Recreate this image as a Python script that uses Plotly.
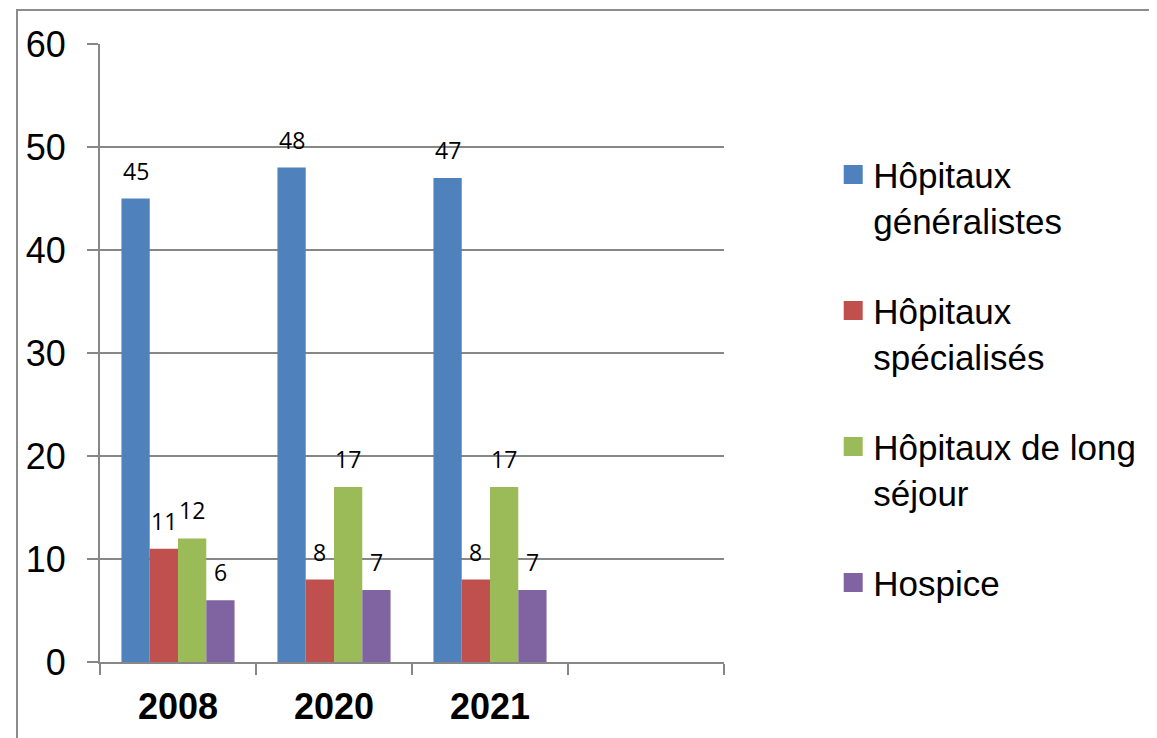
import plotly.graph_objects as go

categories = ["2008", "2020", "2021"]
series_names = ["Hôpitaux<br>généralistes", "Hôpitaux<br>spécialisés", "Hôpitaux de long<br>séjour", "Hospice"]
generalistes = [45, 48, 47]
specialises = [11, 8, 8]
long_sejour = [12, 17, 17]
hospice = [6, 7, 7]
colors = ["#4F81BD", "#C0504D", "#9BBB59", "#8064A2"]
y_ticks = [0, 10, 20, 30, 40, 50, 60]

series = [generalistes, specialises, long_sejour, hospice]
n_slots = 4  # the category axis keeps one empty slot on the right
xpos = list(range(len(categories)))
bargap = 0.275
w = (1 - bargap) / len(series)

fig = go.Figure()
for k, (name, vals, col) in enumerate(zip(series_names, series, colors)):
    fig.add_trace(go.Bar(x=xpos, y=vals, name=name, marker=dict(color=col, line=dict(width=0)),
                         showlegend=False))
    # legend-only square marker
    fig.add_trace(go.Scatter(x=[None], y=[None], mode="markers", name=name, legendgroup=str(k),
                             marker=dict(symbol="square", size=16, color=col, line=dict(width=3, color=col))))

annotations = []
for k, vals in enumerate(series):
    off = (k - (len(series) - 1) / 2) * w
    for i, v in enumerate(vals):
        annotations.append(dict(x=xpos[i] + off, y=v, xref="x", yref="y", text=str(v), showarrow=False,
                                yanchor="middle", yshift=28,
                                font=dict(family="Open Sans", size=23, color="#000000")))

grid = "#878787"
fig.update_layout(
    width=1157, height=738,
    margin=dict(l=92, r=441, t=36, b=84),
    paper_bgcolor="white", plot_bgcolor="white",
    barmode="group", bargap=bargap, bargroupgap=0,
    font=dict(family="Liberation Sans, Arial", color="#000000"),
    annotations=annotations,
    legend=dict(x=1.175, xanchor="left", y=0.836, yanchor="top", valign="top",
                font=dict(family="Liberation Sans, Arial", size=35, color="#000000"),
                tracegroupgap=42, bgcolor="rgba(0,0,0,0)"),
    shapes=[dict(type="rect", xref="paper", yref="paper", x0=-0.1330, x1=3, y0=-2, y1=1.055,
                 line=dict(color="#8c8c8c", width=2), fillcolor="rgba(0,0,0,0)", layer="below")],
)
fig.update_xaxes(range=[-0.5, n_slots - 0.5], tickvals=xpos, ticktext=categories, ticks="",
                 tickfont=dict(family="Liberation Sans, Arial", size=36, color="#000000", weight="bold"),
                 showgrid=False, zeroline=False, showline=True, linecolor=grid, linewidth=2,
                 ticklabelstandoff=12, automargin=False,
                 minor=dict(tickvals=[x - 0.5 for x in range(n_slots + 1)], ticks="outside", ticklen=11,
                            tickcolor=grid, tickwidth=2, showgrid=False))
fig.update_yaxes(range=[0, 60], tickvals=y_ticks, ticks="outside", ticklen=11, tickcolor=grid, tickwidth=2,
                 tickfont=dict(family="Liberation Sans, Arial", size=36, color="#000000"),
                 showgrid=True, gridcolor=grid, gridwidth=2, zeroline=False, automargin=False,
                 showline=True, linecolor=grid, linewidth=2, ticklabelstandoff=14)

fig.write_html("out.html")
